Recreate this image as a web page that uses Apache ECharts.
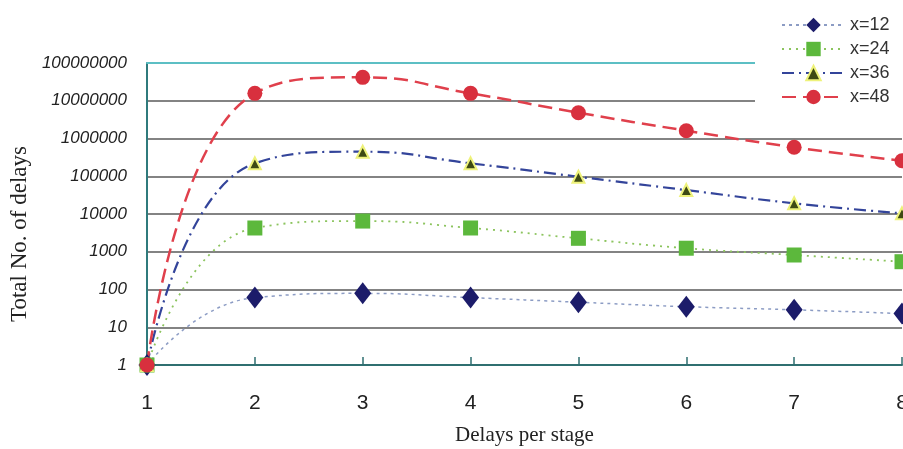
<!DOCTYPE html>
<html>
<head>
<meta charset="utf-8">
<script src="https://cdn.jsdelivr.net/npm/echarts@6/dist/echarts.min.js"></script>
<style>
html,body{margin:0;padding:0;background:#fff;overflow:hidden;width:903px;height:449px;}
#chart{width:903px;height:449px;}
</style>
</head>
<body>
<div id="chart"></div>
<script>
const xValues = [1, 2, 3, 4, 5, 6, 7, 8];
const seriesNames = ['x=12', 'x=24', 'x=36', 'x=48'];
const s12 = [1, 61, 79, 61, 46, 35, 29, 23];
const s24 = [1, 4260, 6500, 4260, 2270, 1240, 820, 545];
const s36 = [1, 220000, 447000, 220000, 97000, 43000, 19200, 10400];
const s48 = [1, 15700000, 41700000, 15700000, 4830000, 1610000, 585000, 258000];
const yMin = 1, yMax = 100000000;
const xTitle = 'Delays per stage';
const yTitle = 'Total No. of delays';

const pairs = arr => xValues.map((x, i) => [x, arr[i]]);

const chart = echarts.init(document.getElementById('chart'), null, {renderer: 'canvas', width: 903, height: 449});
const option = {
  animation: false,
  backgroundColor: '#ffffff',
  grid: {left: 147, right: 1, top: 63, bottom: 84, containLabel: false, outerBoundsMode: 'none'},
  xAxis: [{
    type: 'value', min: 1, max: 8, interval: 1,
    name: xTitle, nameLocation: 'middle', nameGap: 60,
    nameTextStyle: {fontFamily: 'Liberation Serif', fontSize: 21, color: '#222'},
    axisLine: {show: true, onZero: false, lineStyle: {color: '#2f6f70', width: 2}},
    axisTick: {show: true, inside: true, length: 8, lineStyle: {color: '#2f6f70', width: 1.5}},
    axisLabel: {fontFamily: 'Liberation Sans', fontSize: 21, color: '#222', margin: 28,
      formatter: v => String(v)},
    splitLine: {show: false}
  }, {
    type: 'value', min: 1, max: 8, position: 'top', z: 5,
    axisLine: {show: true, lineStyle: {color: '#5cbfc4', width: 2}},
    axisTick: {show: false}, axisLabel: {show: false}, splitLine: {show: false}
  }],
  yAxis: {
    type: 'log', logBase: 10, min: yMin, max: yMax,
    axisLine: {show: true, lineStyle: {color: '#2f7a7c', width: 2}},
    axisTick: {show: false},
    axisLabel: {fontFamily: 'Liberation Sans', fontStyle: 'italic', fontSize: 17, color: '#222',
      margin: 20, padding: [8, 0, 0, 0], formatter: v => String(Math.round(v))},
    splitLine: {show: true, showMaxLine: false, lineStyle: {color: '#5a5a5a', width: 1.6}}
  },
  graphic: [{
    type: 'rect', z: 10, shape: {x: 755, y: 0, width: 148, height: 125},
    style: {fill: '#ffffff'}
  }, {
    type: 'text', z: 10, x: 20, y: 234, rotation: Math.PI / 2,
    style: {text: yTitle, fontFamily: 'Liberation Serif', fontSize: 23, fill: '#222',
      textAlign: 'center', textVerticalAlign: 'middle'}
  }],
  legend: {
    z: 20, orient: 'vertical', left: 781, top: 16, padding: 0,
    itemWidth: 63, itemHeight: 18, itemGap: 6,
    data: seriesNames,
    textStyle: {fontFamily: 'Liberation Sans', fontSize: 18, color: '#333', padding: [10, 0, 0, 0]}
  },
  series: [{
    name: seriesNames[0], type: 'line', smooth: 0.5, data: pairs(s12),
    symbol: 'diamond', symbolSize: [17, 22],
    itemStyle: {color: '#1c1c6a'},
    lineStyle: {color: '#8c9cc4', width: 1.5, type: [3, 4]}
  }, {
    name: seriesNames[1], type: 'line', smooth: 0.5, data: pairs(s24),
    symbol: 'rect', symbolSize: 15,
    itemStyle: {color: '#5cb83c'},
    lineStyle: {color: '#8cc45e', width: 1.8, type: [2, 5]}
  }, {
    name: seriesNames[2], type: 'line', smooth: 0.5, data: pairs(s36),
    symbol: 'triangle', symbolSize: 12,
    itemStyle: {color: '#3e4a14', borderColor: '#eef27a', borderWidth: 2},
    lineStyle: {color: '#33449a', width: 2.2, type: [12, 5, 2, 5]}
  }, {
    name: seriesNames[3], type: 'line', smooth: 0.5, data: pairs(s48),
    symbol: 'circle', symbolSize: 15,
    itemStyle: {color: '#d8303e'},
    lineStyle: {color: '#e0404c', width: 2.5, type: [14, 7]}
  }]
};
chart.setOption(option);
</script>
</body>
</html>
